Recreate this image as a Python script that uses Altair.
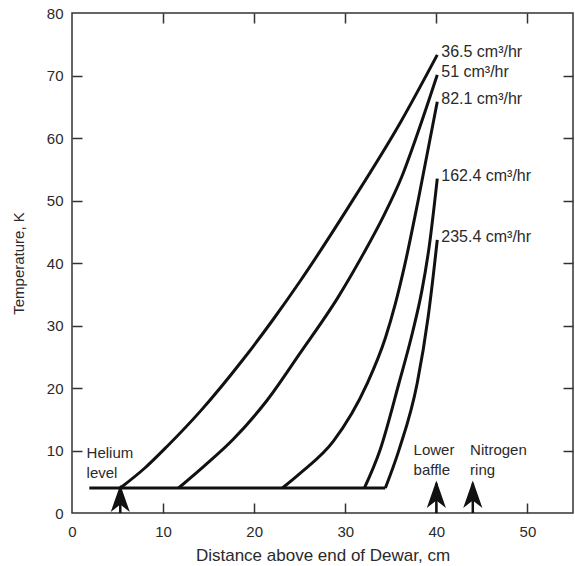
import altair as alt
import pandas as pd

# Flow rates (cm^3/hr) and the measured temperature profiles along the Dewar
flow_rates = ["36.5", "51", "82.1", "162.4", "235.4"]

dist_36_5 = [5.3, 8.0, 10.4, 14.1, 18.8, 22.1, 25.0, 30.5, 36.1, 40.1]
temp_36_5 = [4.0, 7.2, 10.6, 16.3, 24.6, 31.0, 37.0, 49.3, 62.6, 73.3]

dist_51 = [11.7, 14.5, 17.7, 21.4, 25.0, 29.2, 32.0, 34.2, 36.2, 38.0, 40.1]
temp_51 = [4.0, 7.5, 11.8, 18.0, 25.5, 34.5, 41.5, 47.5, 53.8, 61.0, 70.1]

dist_82_1 = [23.1, 25.0, 28.7, 32.4, 34.4, 35.5, 36.5, 38.0, 40.1]
temp_82_1 = [4.0, 6.3, 11.5, 20.7, 28.0, 33.5, 39.5, 50.0, 65.8]

dist_162_4 = [32.1, 33.8, 35.9, 37.4, 38.4, 39.2, 40.1]
temp_162_4 = [4.0, 10.0, 20.8, 29.0, 35.5, 42.5, 53.5]

dist_235_4 = [34.4, 35.9, 37.9, 39.1, 39.7, 40.1]
temp_235_4 = [4.0, 10.1, 20.8, 31.4, 38.5, 43.7]

# Liquid helium level (flat 4 K section)
helium_dist = [1.9, 34.4]
helium_temp = [4.0, 4.0]

# Markers along the Dewar
marker_names = ["Helium\nlevel", "Lower\nbaffle", "Nitrogen\nring"]
marker_dist = [5.3, 40.0, 44.0]
marker_tip = [4.1, 4.75, 4.75]
note_dist = [1.6, 37.5, 43.7]
note_temp = [8.8, 9.3, 9.3]

x_ticks = [0, 10, 20, 30, 40, 50]
y_ticks = [0, 10, 20, 30, 40, 50, 60, 70, 80]

profiles = [
    (dist_36_5, temp_36_5),
    (dist_51, temp_51),
    (dist_82_1, temp_82_1),
    (dist_162_4, temp_162_4),
    (dist_235_4, temp_235_4),
]

rows = []
for rate, (xs, ys) in zip(flow_rates, profiles):
    for i, (xv, yv) in enumerate(zip(xs, ys)):
        rows.append({"rate": rate, "i": i, "x": xv, "y": yv})
curves = pd.DataFrame(rows)

ends = pd.DataFrame({
    "x": [xs[-1] for xs, _ in profiles],
    "y": [ys[-1] for _, ys in profiles],
    "label": [f"{r} cm\u00b3/hr" for r in flow_rates],
})

helium = pd.DataFrame({"x": helium_dist, "y": helium_temp, "i": [0, 1]})
markers = pd.DataFrame({"x": marker_dist, "tip": marker_tip})
notes = pd.DataFrame({"x": note_dist, "y": note_temp, "label": marker_names})

FONT = "Liberation Sans"
INK = "#111"
TXT = "#2a2a2a"

xs_scale = alt.Scale(domain=[0, 55], nice=False, zero=False)
ys_scale = alt.Scale(domain=[0, 80], nice=False, zero=False)

x_main = alt.X("x:Q", scale=xs_scale, axis=alt.Axis(
    values=x_ticks, tickSize=0, domain=False, grid=False, labelFlush=False,
    title="Distance above end of Dewar, cm", labelPadding=11, titlePadding=8,
    titleFontSize=17))
y_main = alt.Y("y:Q", scale=ys_scale, axis=alt.Axis(
    values=y_ticks, tickSize=0, domain=False, grid=False, labelFlush=False,
    title="Temperature, K", labelPadding=9, titlePadding=20, titleFontSize=15))


def inward(orient, vals):
    # tick-only axis pulled 10px inside the frame so ticks point inward
    return alt.Axis(orient=orient, offset=-10, values=vals, labels=False,
                    domain=False, grid=False, ticks=True, tickSize=10, title=None)


lines = alt.Chart(curves).mark_line(
    color=INK, strokeWidth=3, interpolate="monotone"
).encode(x=x_main, y=y_main, detail="rate:N", order="i:Q")

helium_line = alt.Chart(helium).mark_line(color=INK, strokeWidth=3).encode(
    x=alt.X("x:Q", scale=xs_scale, axis=None),
    y=alt.Y("y:Q", scale=ys_scale, axis=None),
    order="i:Q",
)

rate_labels = alt.Chart(ends).mark_text(
    align="left", baseline="middle", dx=4, dy=-3, font=FONT, fontSize=16, color=TXT
).encode(
    x=alt.X("x:Q", scale=xs_scale, axis=inward("bottom", [10, 20, 30, 40, 50])),
    y=alt.Y("y:Q", scale=ys_scale, axis=inward("left", [10, 20, 30, 40, 50, 60, 70])),
    text="label:N",
)

stems = alt.Chart(markers).mark_rule(color=INK, strokeWidth=2.5).encode(
    x=alt.X("x:Q", scale=xs_scale, axis=inward("top", [10, 20, 30, 40, 50])),
    y=alt.Y("tip:Q", scale=ys_scale, axis=inward("right", [10, 20, 30, 40, 50, 60, 70])),
    y2=alt.datum(0),
)

heads = alt.Chart(markers).mark_point(
    shape="M0,-1 L0.7,1 L0,0.45 L-0.7,1 Z", size=750, filled=True,
    color=INK, opacity=1, strokeWidth=0, yOffset=11,
).encode(
    x=alt.X("x:Q", scale=xs_scale, axis=None),
    y=alt.Y("tip:Q", scale=ys_scale, axis=None),
)

note_text = alt.Chart(notes).mark_text(
    align="left", baseline="alphabetic", lineBreak="\n", lineHeight=20,
    font=FONT, fontSize=15, color=TXT,
).encode(
    x=alt.X("x:Q", scale=xs_scale, axis=None),
    y=alt.Y("y:Q", scale=ys_scale, axis=None),
    text="label:N",
)

chart = alt.layer(
    lines, helium_line, rate_labels, stems, heads, note_text
).resolve_axis(
    x="independent", y="independent"
).properties(
    width=501, height=500,
    autosize=alt.AutoSizeParams(type="none"),
    padding={"left": 72, "top": 13, "right": 2, "bottom": 53},
    background="white",
).configure_view(
    stroke="#333", strokeWidth=1.5
).configure_axis(
    labelFont=FONT, titleFont=FONT, labelFontSize=15, labelColor=TXT,
    titleColor=TXT, titleFontWeight="normal", tickColor="#333", tickWidth=1.5,
)

chart.save("out.html", embed_options={"renderer": "svg", "actions": False})
